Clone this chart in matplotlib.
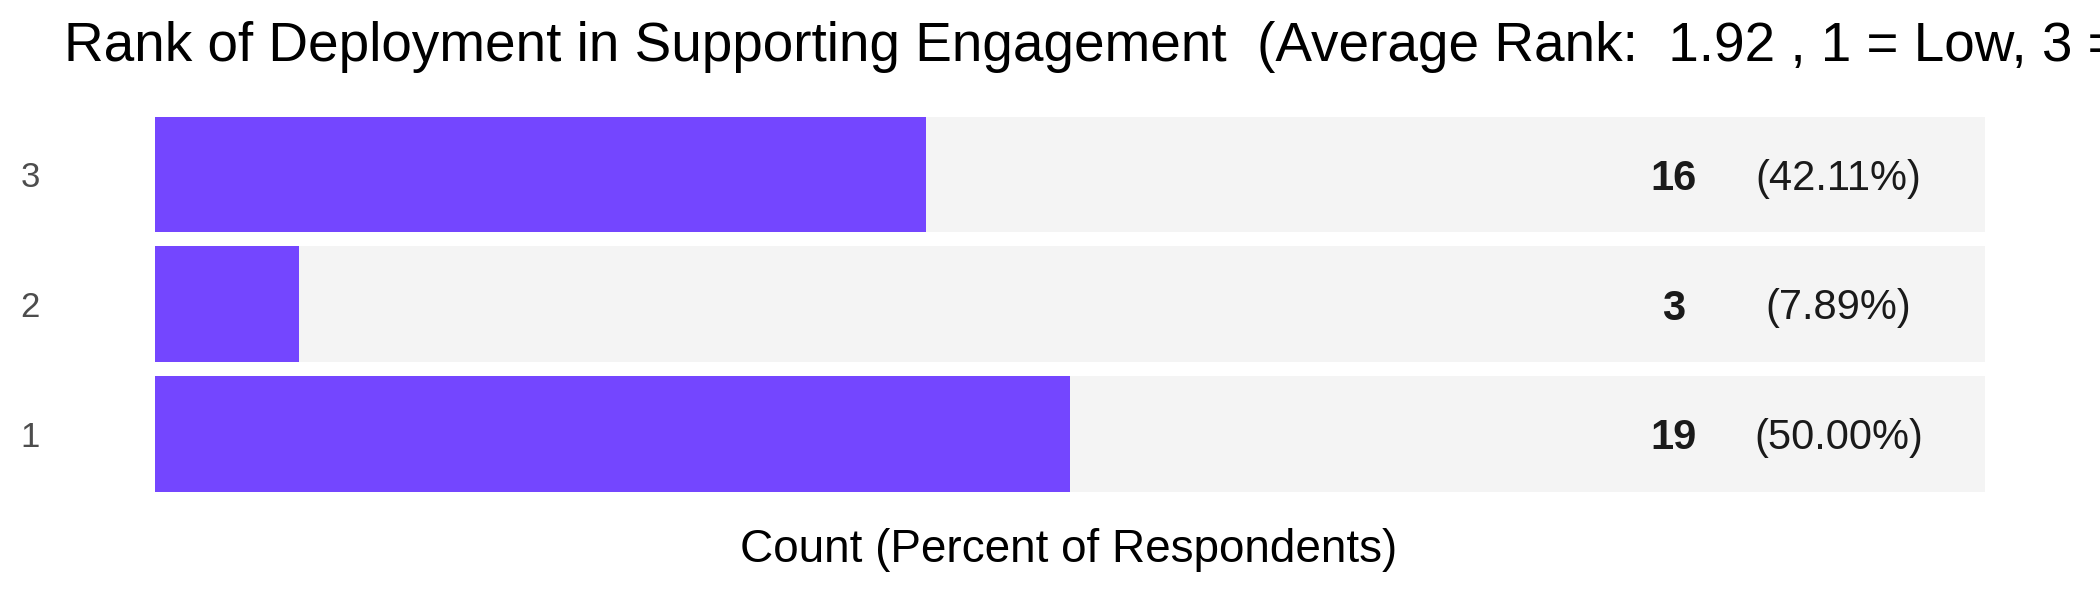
import matplotlib
matplotlib.use('Agg')
import matplotlib.pyplot as plt
import matplotlib.transforms as mtransforms

ranks = ['1', '2', '3']
counts = [19, 3, 16]
percents = [50.00, 7.89, 42.11]
total = 38
title = 'Rank of Deployment in Supporting Engagement  (Average Rank:  1.92 , 1 = Low, 3 = High)'
xlabel = 'Count (Percent of Respondents)'

purple = '#7446ff'
track = '#f4f4f4'


def main():
    plt.rcParams['font.family'] = ['Liberation Sans', 'DejaVu Sans']

    fig = plt.figure(figsize=(21, 6), dpi=100)
    ax = fig.add_axes([155 / 2100, 1 - 491.5 / 600, 1830 / 2100, 375 / 600])

    ypos = list(range(1, len(ranks) + 1))
    h = 0.885
    ax.barh(ypos, [total] * len(ranks), height=h, color=track, linewidth=0)
    ax.barh(ypos, counts, height=h, color=purple, linewidth=0)

    ax.set_xlim(0, total)
    ax.set_ylim(1 - h / 2, len(ranks) + h / 2)
    ax.set_yticks(ypos)
    ax.set_yticklabels(ranks)
    ax.tick_params(axis='y', length=0, pad=83, labelsize=25, labelcolor='#4d4d4d')
    ax.set_xticks([])
    for s in ax.spines.values():
        s.set_visible(False)

    trans = mtransforms.blended_transform_factory(ax.transAxes, ax.transData)
    for y, c, p in zip(ypos, counts, percents):
        ax.text(0.830, y, f'{c}', transform=trans, ha='center', va='center_baseline',
                fontsize=30, fontweight='bold', color='#1a1a1a')
        ax.text(0.920, y, f'({p:.2f}%)', transform=trans, ha='center', va='center_baseline',
                fontsize=30, color='#1a1a1a')

    fig.text(64 / 2100, 1 - 47 / 600, title, ha='left', va='center', fontsize=39.5, color='black')
    fig.text(1069 / 2100, 1 - 550 / 600, xlabel, ha='center', va='center', fontsize=33, color='black')

    fig.savefig('out.png', dpi=100)


if __name__ == '__main__':
    main()
